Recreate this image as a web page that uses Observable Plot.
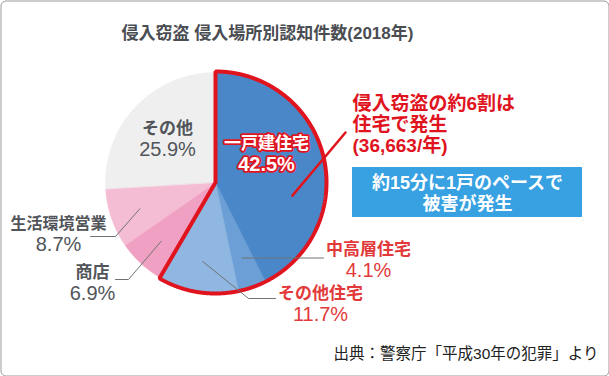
<!DOCTYPE html>
<html><head><meta charset="utf-8">
<script src="https://cdn.jsdelivr.net/npm/d3@7"></script>
<script src="https://cdn.jsdelivr.net/npm/@observablehq/plot@0.6"></script>
<style>
body{margin:0;background:#fff}
#chart{width:609px;height:376px;position:relative;overflow:hidden}
</style>
</head><body><div id="chart"></div>
<script>
// ---- data ----
const categories = ["一戸建住宅", "中高層住宅", "その他住宅", "商店", "生活環境営業", "その他"];
const shares = [42.5, 4.1, 11.7, 6.9, 8.7, 25.9];
const shareLabels = ["42.5%", "4.1%", "11.7%", "6.9%", "8.7%", "25.9%"];
const housingGroup = ["一戸建住宅", "中高層住宅", "その他住宅"];
const titleText = "侵入窃盗 侵入場所別認知件数(2018年)";
const noteLines = ["侵入窃盗の約6割は", "住宅で発生", "(36,663/年)"];
const boxLines = ["約15分に1戸のペースで", "被害が発生"];
const sourceText = "出典：警察庁「平成30年の犯罪」より";

// ---- styles / layout ----
const sliceColors = ["#4a87c9", "#6b9fd5", "#90b7e1", "#f0a0c2", "#f5bdd4", "#efefef"];
const W = 609, H = 376;
const CX = 215, CY = 182, R = 110;
const RED = "#e0141e", DARK = "#51555a", LABELRED = "#e23a3a";
const FONT = "'Liberation Sans', 'Noto Sans CJK JP', sans-serif";

// label layout: centre of first line (x, y)
const labelLayout = {
  "一戸建住宅":   {x: 266, y: 143, color: "#fff", outline: RED, size: 17, pct: 20, pctBold: true},
  "中高層住宅":   {x: 368, y: 249, color: LABELRED, size: 17, pct: 20, leader: [[323, null]]},
  "その他住宅":   {x: 320, y: 293, color: LABELRED, size: 17, pct: 20, leader: [[248, 298], [275, 298]]},
  "商店":         {x: 92,  y: 272, color: DARK, size: 17, pct: 20, leader: [[128, 279], [115, 279]]},
  "生活環境営業": {x: 58,  y: 223, color: DARK, size: 16, pct: 20, leader: [[115, 236], [90, 236]]},
  "その他":       {x: 167, y: 128, color: DARK, size: 17, pct: 20}
};

// ---- geometry from data ----
const arcs = d3.pie().sort(null).value(d => d)(shares);
const polar = (a, r) => [CX + r * Math.sin(a), CY - r * Math.cos(a)];
const slicePts = [];
arcs.forEach((a, i) => {
  const n = Math.max(2, Math.ceil((a.endAngle - a.startAngle) / 0.005));
  slicePts.push({name: categories[i], color: sliceColors[i], p: [CX, CY]});
  for (let k = 0; k <= n; k++) {
    const t = a.startAngle + (a.endAngle - a.startAngle) * k / n;
    slicePts.push({name: categories[i], color: sliceColors[i], p: polar(t, R)});
  }
  slicePts.push({name: categories[i], color: sliceColors[i], p: [CX, CY]});
});

// housing outline
const hIdx = categories.map((c, i) => housingGroup.includes(c) ? i : -1).filter(i => i >= 0);
const hStart = arcs[hIdx[0]].startAngle, hEnd = arcs[hIdx[hIdx.length - 1]].endAngle;
const outline = [[CX, CY]];
{
  const n = Math.ceil((hEnd - hStart) / 0.005);
  for (let k = 0; k <= n; k++) outline.push(polar(hStart + (hEnd - hStart) * k / n, R + 1));
  outline.push([CX, CY]);
}

// leader lines
const leaders = [];
categories.forEach((c, i) => {
  const L = labelLayout[c];
  if (!L.leader) return;
  const mid = (arcs[i].startAngle + arcs[i].endAngle) / 2;
  const s = polar(mid, 80);
  leaders.push({k: c, p: s});
  L.leader.forEach(([x, y]) => leaders.push({k: c, p: [x, y == null ? s[1] : y]}));
});

// annotation pointer from the detached-house slice
const mainArc = arcs[0];
const pointer = [
  {p: polar(mainArc.startAngle + (mainArc.endAngle - mainArc.startAngle) * 0.65, 78)},
  {p: [345, 132]}
];

const labelRows = categories.map((c, i) => ({c, t: c + "\n" + shareLabels[i], L: labelLayout[c]}));

const chart = Plot.plot({
  width: W, height: H,
  margin: 0,
  x: {domain: [0, W], range: [0, W], axis: null},
  y: {domain: [0, H], range: [0, H], axis: null},
  style: {fontFamily: FONT, background: "#fff"},
  marks: [
    Plot.frame({inset: 0.5, rx: 5, stroke: "#9a9a9a"}),
    Plot.text([titleText], {x: () => 267, y: () => 33, text: d => d, fontSize: 17, fontWeight: "bold", fill: "#4a4d52"}),
    Plot.line(slicePts, {x: d => d.p[0], y: d => d.p[1], z: "name", fill: "color", stroke: "none", curve: "linear"}),
    Plot.line(slicePts, {x: d => d.p[0], y: d => d.p[1], z: "name", stroke: "color", strokeWidth: 0.6, curve: "linear"}),
    Plot.line(outline, {x: d => d[0], y: d => d[1], stroke: RED, strokeWidth: 4, strokeLinejoin: "miter", fill: "none"}),
    Plot.line(leaders, {x: d => d.p[0], y: d => d.p[1], z: "k", stroke: "#6f7377", strokeWidth: 1}),
    Plot.line(pointer, {x: d => d.p[0], y: d => d.p[1], stroke: RED, strokeWidth: 2.5}),
    Plot.text(labelRows, {
      x: d => d.L.x, y: d => d.L.y, text: "t",
      lineAnchor: "top",
      fill: d => d.L.color,
      stroke: d => d.L.outline || "none",
      strokeWidth: 3.5, paintOrder: "stroke",
      fontSize: d => d.L.size,
      fontWeight: "bold"
    }),
    Plot.text([noteLines.join("\n")], {x: () => 352, y: () => 124, text: d => d, textAnchor: "start", lineHeight: 21 / 19, fill: RED, fontSize: 19, fontWeight: "bold"}),
    Plot.rect([boxLines], {x1: () => 352, x2: () => 582, y1: () => 167, y2: () => 217, fill: "#37a1e2"}),
    Plot.text([boxLines.join("\n")], {x: () => 467, y: () => 192.5, text: d => d, lineHeight: 21 / 18, fill: "#fff", fontSize: 18, fontWeight: "bold"}),
    Plot.text([sourceText], {x: () => 598, y: () => 354, text: d => d, textAnchor: "end", fill: "#222", fontSize: 15.5})
  ]
});

// fine-tune the two-line slice labels: name centred on layout y, percentage line larger below
d3.select(chart).selectAll("text").each(function () {
  const spans = d3.select(this).selectAll("tspan").nodes();
  if (spans.length !== 2 || !/%$/.test(spans[1].textContent)) return;
  const L = labelLayout[spans[0].textContent];
  if (!L) return;
  spans[0].removeAttribute("dy");
  spans[0].setAttribute("y", (0.35 * L.size).toFixed(2));
  spans[1].removeAttribute("y");
  spans[1].setAttribute("dy", (20 + 0.36 * L.pct - 0.35 * L.size).toFixed(2));
  spans[1].style.fontSize = L.pct + "px";
  spans[1].style.fontWeight = L.pctBold ? "bold" : "normal";
});

document.getElementById("chart").appendChild(chart);
</script>
</body></html>
